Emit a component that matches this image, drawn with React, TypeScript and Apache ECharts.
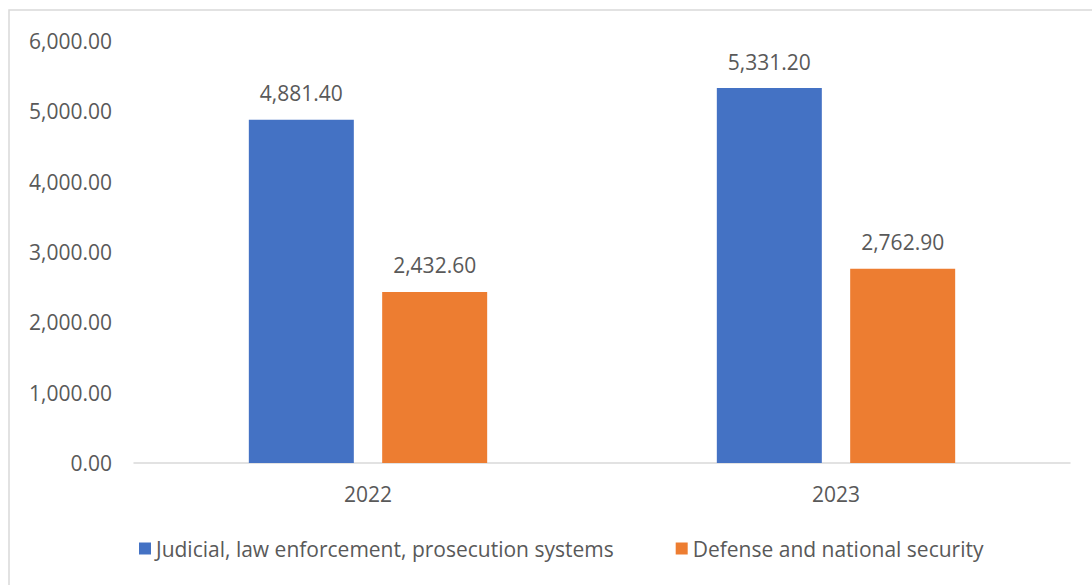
import React, { useEffect, useRef } from "react";
import * as echarts from "echarts";

const categories = ["2022", "2023"];
const judicialValues = [4881.4, 5331.2];
const defenseValues = [2432.6, 2762.9];
const seriesNames = ["Judicial, law enforcement, prosecution systems", "Defense and national security"];
const yTicks = { min: 0, max: 6000, interval: 1000 };

const FONT = "'Open Sans', sans-serif";
const TEXT = "#595959";

const fmt = (v: number) =>
  v.toLocaleString("en-US", { minimumFractionDigits: 2, maximumFractionDigits: 2 });

export default function App() {
  const ref = useRef<HTMLDivElement>(null);
  useEffect(() => {
    if (!ref.current) return;
    const chart = echarts.init(ref.current, null, { renderer: "svg" });
    const label = {
      show: true,
      position: "top" as const,
      distance: 16,
      color: TEXT,
      fontFamily: FONT,
      fontSize: 21,
      formatter: (p: any) => fmt(p.value),
    };
    chart.setOption({
      animation: false,
      textStyle: { fontFamily: FONT },
      graphic: [
        {
          type: "rect",
          shape: { x: 9, y: 10, width: 1200, height: 700 },
          style: { fill: "none", stroke: "#d9d9d9", lineWidth: 1.5 },
          silent: true,
        },
      ],
      grid: { left: 134, right: 22, top: 41, bottom: 122, containLabel: false },
      legend: {
        left: 134,
        top: 533,
        itemWidth: 12,
        itemHeight: 12,
        itemGap: 62,
        icon: "rect",
        textStyle: { color: TEXT, fontFamily: FONT, fontSize: 21 },
        data: seriesNames,
      },
      xAxis: {
        type: "category",
        data: categories,
        axisLine: { lineStyle: { color: "#d9d9d9", width: 1.5 } },
        axisTick: { show: false },
        axisLabel: { color: TEXT, fontFamily: FONT, fontSize: 21, margin: 20 },
      },
      yAxis: {
        type: "value",
        min: yTicks.min,
        max: yTicks.max,
        interval: yTicks.interval,
        splitLine: { show: false },
        axisLine: { show: false },
        axisTick: { show: false },
        axisLabel: {
          color: TEXT,
          fontFamily: FONT,
          fontSize: 21,
          margin: 22,
          formatter: (v: number) => fmt(v),
        },
      },
      series: [
        {
          name: seriesNames[0],
          type: "bar",
          data: judicialValues,
          barWidth: 105,
          barGap: "27%",
          itemStyle: { color: "#4472C4" },
          label,
        },
        {
          name: seriesNames[1],
          type: "bar",
          data: defenseValues,
          barWidth: 105,
          itemStyle: { color: "#ED7D31" },
          label,
        },
      ],
    });
    return () => chart.dispose();
  }, []);
  return (
    <div
      ref={ref}
      style={{ position: "absolute", left: 0, top: 0, width: 1092, height: 585, background: "#fff" }}
    />
  );
}
